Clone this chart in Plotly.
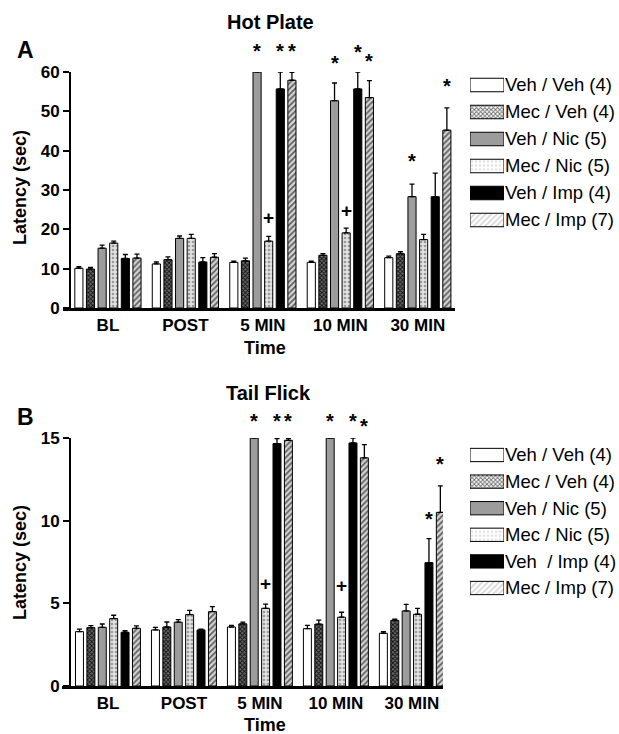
import plotly.graph_objects as go

W, H = 619, 734

time_points = ["BL", "POST", "5 MIN", "10 MIN", "30 MIN"]
series_names = ["Veh / Veh (4)", "Mec / Veh (4)", "Veh / Nic (5)",
                "Mec / Nic (5)", "Veh / Imp (4)", "Mec / Imp (7)"]
series_names_tf = ["Veh / Veh (4)", "Mec / Veh (4)", "Veh / Nic (5)",
                   "Mec / Nic (5)", "Veh\u00a0 / Imp (4)", "Mec / Imp (7)"]

# Hot plate latency (sec)
hp_vehveh = [10.1, 11.2, 11.6, 11.6, 12.8]
hp_mecveh = [9.9, 12.3, 12.0, 13.4, 13.8]
hp_vehnic = [15.2, 17.7, 60.0, 52.7, 28.3]
hp_mecnic = [16.5, 17.7, 17.0, 19.1, 17.4]
hp_vehimp = [12.6, 11.7, 55.7, 55.7, 28.3]
hp_mecimp = [12.7, 12.9, 57.9, 53.5, 45.2]
hp_vehveh_err = [0.4, 0.5, 0.3, 0.3, 0.4]
hp_mecveh_err = [0.4, 0.7, 0.7, 0.4, 0.5]
hp_vehnic_err = [0.8, 0.6, 0.0, 4.5, 3.2]
hp_mecnic_err = [0.5, 1.0, 1.2, 1.2, 1.3]
hp_vehimp_err = [1.0, 1.1, 4.3, 4.3, 6.0]
hp_mecimp_err = [1.0, 0.9, 2.0, 4.3, 5.7]

# Tail flick latency (sec)
tf_vehveh = [3.29, 3.39, 3.57, 3.47, 3.19]
tf_mecveh = [3.53, 3.57, 3.76, 3.74, 3.97]
tf_vehnic = [3.55, 3.86, 15.0, 15.0, 4.54]
tf_mecnic = [4.08, 4.32, 4.70, 4.16, 4.34]
tf_vehimp = [3.25, 3.39, 14.66, 14.70, 7.46]
tf_mecimp = [3.49, 4.50, 14.86, 13.80, 10.50]
tf_vehveh_err = [0.15, 0.15, 0.10, 0.20, 0.10]
tf_mecveh_err = [0.12, 0.30, 0.10, 0.25, 0.08]
tf_vehnic_err = [0.20, 0.15, 0.0, 0.0, 0.40]
tf_mecnic_err = [0.20, 0.25, 0.25, 0.30, 0.35]
tf_vehimp_err = [0.10, 0.05, 0.30, 0.30, 1.45]
tf_mecimp_err = [0.15, 0.30, 0.10, 0.80, 1.60]

# significance markers: (time point, series index, latency level, symbol)
hp_marks = [("5 MIN", 2, 66.1, "*"), ("5 MIN", 4, 66.1, "*"), ("5 MIN", 5, 66.1, "*"),
            ("5 MIN", 3, 23.1, "+"),
            ("10 MIN", 2, 63.0, "*"), ("10 MIN", 4, 65.9, "*"), ("10 MIN", 5, 63.6, "*"),
            ("10 MIN", 3, 24.9, "+"),
            ("30 MIN", 2, 38.1, "*"), ("30 MIN", 5, 57.2, "*")]
tf_marks = [("5 MIN", 2, 16.2, "*"), ("5 MIN", 4, 16.2, "*"), ("5 MIN", 5, 16.2, "*"),
            ("5 MIN", 3, 6.2, "+"),
            ("10 MIN", 2, 16.2, "*"), ("10 MIN", 4, 16.2, "*"), ("10 MIN", 5, 15.9, "*"),
            ("10 MIN", 3, 6.1, "+"),
            ("30 MIN", 4, 10.3, "*"), ("30 MIN", 5, 13.6, "*")]

HP_MAX, TF_MAX = 60, 15

hp_vals = [hp_vehveh, hp_mecveh, hp_vehnic, hp_mecnic, hp_vehimp, hp_mecimp]
hp_errs = [hp_vehveh_err, hp_mecveh_err, hp_vehnic_err, hp_mecnic_err, hp_vehimp_err, hp_mecimp_err]
tf_vals = [tf_vehveh, tf_mecveh, tf_vehnic, tf_mecnic, tf_vehimp, tf_mecimp]
tf_errs = [tf_vehveh_err, tf_mecveh_err, tf_vehnic_err, tf_mecnic_err, tf_vehimp_err, tf_mecimp_err]

# styles: (bg colour, pattern shape, fg colour, size, solidity)
styles = [
    ("#ffffff", "", "#000000", 8, 0.3),
    ("#6a6a6a", "x", "#111111", 3, 0.5),
    ("#9c9c9c", "", "#000000", 8, 0.3),
    ("#e2e2e2", ".", "#9a9a9a", 4, 0.35),
    ("#000000", "", "#000000", 8, 0.3),
    ("#d4d4d4", "/", "#5a5a5a", 4, 0.4),
]

FONT = "Liberation Sans"
BAR_GAP, GROUP_GAP = 0.1, 0.3


def px_x(v):
    return v / W


def px_y(v):
    return 1 - v / H


def marker_for(st):
    bg, shape, fg, size, sol = st
    return dict(color=bg, line=dict(color="black", width=1),
                pattern=dict(shape=shape, fgcolor=fg, bgcolor=bg, size=size,
                             solidity=sol, fillmode="replace"))


fig = go.Figure()

panels = [(hp_vals, hp_errs, "x", "y"), (tf_vals, tf_errs, "x2", "y2")]
for vals, errs, xa, ya in panels:
    for k in range(6):
        fig.add_trace(go.Bar(
            x=time_points, y=vals[k], xaxis=xa, yaxis=ya,
            marker=marker_for(styles[k]), cliponaxis=False,
            error_y=dict(type="data", symmetric=False, array=errs[k],
                         arrayminus=[0] * len(errs[k]), color="black",
                         thickness=1.3, width=2.5),
            showlegend=False, hoverinfo="skip"))

# legend swatches drawn as bars on small hidden axes
for names, xa, ya in [(series_names, "x3", "y3"), (series_names_tf, "x4", "y4")]:
    fig.add_trace(go.Bar(
        y=names, x=[1] * len(names), orientation="h", xaxis=xa, yaxis=ya,
        width=0.5, showlegend=False, hoverinfo="skip",
        marker=dict(color=[s[0] for s in styles], line=dict(color="black", width=1),
                    pattern=dict(shape=[s[1] for s in styles],
                                 fgcolor=[s[2] for s in styles],
                                 bgcolor=[s[0] for s in styles],
                                 size=[s[3] for s in styles],
                                 solidity=[s[4] for s in styles],
                                 fillmode="replace"))))

tickfont = dict(family=FONT, size=17, color="black", weight="bold")
common_x = dict(type="category", showline=True, linecolor="black", linewidth=2.5,
                ticks="", tickfont=tickfont, showgrid=False, zeroline=False,
                fixedrange=True, automargin=False)
common_y = dict(showline=True, linecolor="black", linewidth=2, ticks="outside",
                ticklen=6, tickwidth=2, tickcolor="black", tickfont=tickfont,
                showgrid=False, zeroline=False, anchor="free", position=px_x(70),
                automargin=False, fixedrange=True)

legend_x = dict(range=[0, 1], visible=False, fixedrange=True)
legend_y = dict(type="category", range=[5.5, -0.5], side="right", showline=False,
                ticks="", showgrid=False, zeroline=False, automargin=False,
                fixedrange=True,
                tickfont=dict(family=FONT, size=18.5, color="black"))

fig.update_layout(
    width=W, height=H, autosize=False,
    margin=dict(l=0, r=0, t=0, b=0, pad=0, autoexpand=False),
    paper_bgcolor="white", plot_bgcolor="white",
    barmode="group", bargap=BAR_GAP, bargroupgap=GROUP_GAP,
    showlegend=False,
    xaxis=dict(common_x, domain=[px_x(63), px_x(455)], range=[-0.58, 4.48], anchor="y"),
    yaxis=dict(common_y, domain=[px_y(308), px_y(72)], range=[0, HP_MAX], dtick=10),
    xaxis2=dict(common_x, domain=[px_x(62), px_x(443)], range=[-0.605, 4.41], anchor="y2"),
    yaxis2=dict(common_y, domain=[px_y(686), px_y(438)], range=[0, TF_MAX], dtick=5),
    xaxis3=dict(legend_x, domain=[px_x(470), px_x(504)], anchor="y3"),
    yaxis3=dict(legend_y, domain=[px_y(233.5), px_y(71.5)], anchor="x3"),
    xaxis4=dict(legend_x, domain=[px_x(470), px_x(504)], anchor="y4"),
    yaxis4=dict(legend_y, domain=[px_y(601.3), px_y(441.7)], anchor="x4"),
)

annotations = []
bold = dict(family=FONT, color="black", weight="bold")


def text_ann(txt, x, y, size, angle=0):
    return dict(text=txt, x=px_x(x), y=px_y(y), xref="paper", yref="paper",
                showarrow=False, xanchor="center", yanchor="middle", textangle=angle,
                font=dict(bold, size=size))


annotations += [
    text_ann("Hot Plate", 270, 22, 20),
    text_ann("Tail Flick", 268, 393, 20),
    text_ann("A", 25, 50, 23),
    text_ann("B", 25, 417, 23),
    text_ann("Time", 265, 348, 18),
    text_ann("Time", 265, 725, 18),
    text_ann("Latency (sec)", 20, 188, 18, -90),
    text_ann("Latency (sec)", 20, 563, 18, -90),
]

slot = (1 - BAR_GAP) / 6
for marks, xr, yr, ymax in [(hp_marks, "x", "y domain", HP_MAX), (tf_marks, "x2", "y2 domain", TF_MAX)]:
    for tp, k, lvl, sym in marks:
        xi = time_points.index(tp) - (1 - BAR_GAP) / 2 + slot * (k + 0.5)
        annotations.append(dict(
            text=sym, x=xi, y=lvl / ymax, xref=xr, yref=yr, showarrow=False,
            xanchor="center", yanchor="middle",
            yshift=-3 if sym == "*" else 0,
            font=dict(bold, size=20 if sym == "*" else 19)))

fig.update_layout(annotations=annotations)
fig.write_html("out.html", config={"displayModeBar": False, "staticPlot": True},
               post_script="document.body.style.margin='0';document.body.style.padding='0';")
